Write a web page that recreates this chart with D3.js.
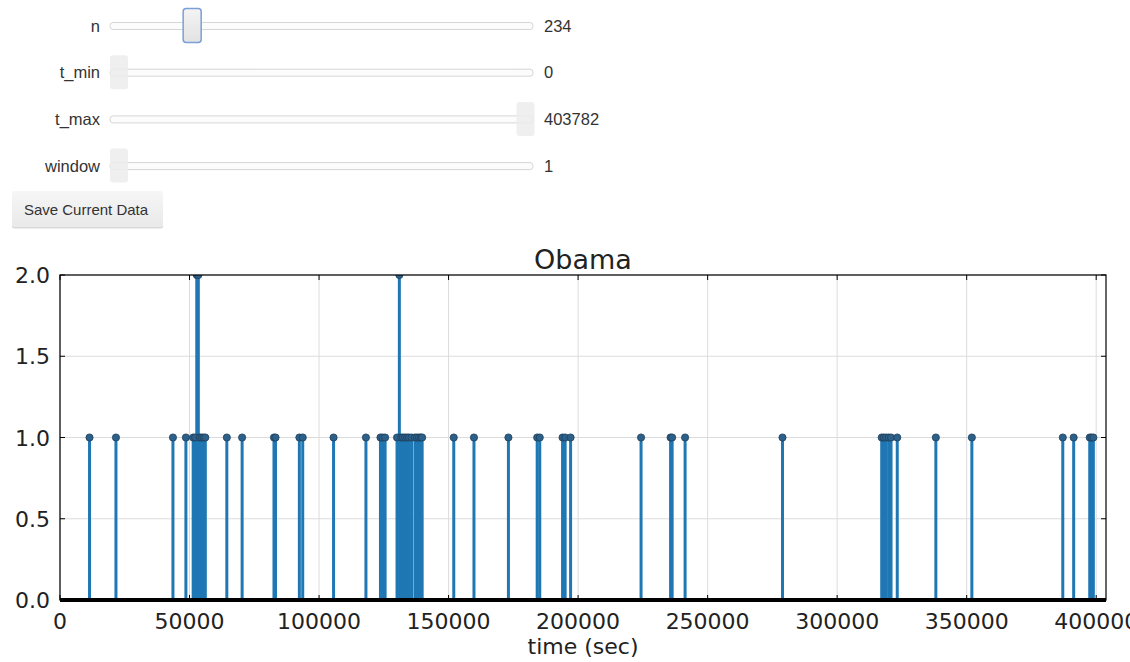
<!DOCTYPE html>
<html><head><meta charset="utf-8">
<script src="https://cdn.jsdelivr.net/npm/d3@7"></script>
<style>body{margin:0;background:#fff;} svg{display:block}</style>
</head><body>
<svg id="c" width="1130" height="662"></svg>
<script>
// ---- widget data ----
const sliderNames = ["n", "t_min", "t_max", "window"];
const sliderValues = [234, 0, 403782, 1];
const sliderMins = [0, 0, 0, 1];
const sliderMaxs = [1300, 403782, 403782, 1000];
const buttonLabel = "Save Current Data";

// ---- chart data ----
const chartTitle = "Obama";
const xLabel = "time (sec)";
const tMax = 403782;
const xTicks = [0, 50000, 100000, 150000, 200000, 250000, 300000, 350000, 400000];
const yTicks = [0, 0.5, 1.0, 1.5, 2.0];
const eventTimes = [
  11400, 21600, 43600, 48600,
  51400, 52200, 52800, 53400, 54000, 54700, 55400, 56100,
  64400, 70300, 82600, 83200, 92400, 93700, 105600, 118100,
  123700, 124500, 125500,
  130100, 131000, 131700, 132400, 133200, 134000, 134700, 135700,
  137000, 137800, 138600, 139300, 139800,
  152000, 159800, 173100, 184200, 185200, 194000, 195000, 197100,
  224300, 235700, 236300, 241300, 278900,
  317200, 318000, 318900, 319900, 320800, 323200,
  338100, 352000, 387100, 391300, 397500, 398200, 398900
];
const eventCounts = [
  1, 1, 1, 1,
  1, 1, 2, 2, 1, 1, 1, 1,
  1, 1, 1, 1, 1, 1, 1, 1,
  1, 1, 1,
  1, 2, 1, 1, 1, 1, 1, 1,
  1, 1, 1, 1, 1,
  1, 1, 1, 1, 1, 1, 1, 1,
  1, 1, 1, 1, 1,
  1, 1, 1, 1, 1, 1,
  1, 1, 1, 1, 1, 1, 1
];

const svg = d3.select("#c");
const defs = svg.append("defs");

// ---------- widgets ----------
const wFont = "'Liberation Sans', Arial, sans-serif";
const rowY = d3.scaleLinear().domain([0, 1]).range([26, 72.7]); // row index -> center y
const hg = defs.append("linearGradient").attr("id", "hg").attr("x1", 0).attr("y1", 0).attr("x2", 0).attr("y2", 1);
hg.append("stop").attr("offset", "0%").attr("stop-color", "#f4f4f4");
hg.append("stop").attr("offset", "100%").attr("stop-color", "#e2e2e2");
const bg = defs.append("linearGradient").attr("id", "bg").attr("x1", 0).attr("y1", 0).attr("x2", 0).attr("y2", 1);
bg.append("stop").attr("offset", "0%").attr("stop-color", "#f6f6f6");
bg.append("stop").attr("offset", "100%").attr("stop-color", "#e9e9e9");

sliderNames.forEach((name, i) => {
  const cy = rowY(i);
  const g = svg.append("g");
  g.append("text").attr("x", 100).attr("y", cy + 5.5).attr("text-anchor", "end")
    .attr("font-family", wFont).attr("font-size", 16.5).attr("fill", "#333").text(name);
  g.append("rect").attr("x", 110).attr("y", cy - 3.5).attr("width", 423).attr("height", 7)
    .attr("rx", 3).attr("fill", "#fcfcfc").attr("stroke", "#d6d6d6").attr("stroke-width", 1);
  const s = d3.scaleLinear().domain([sliderMins[i], sliderMaxs[i]]).range([119, 525.5]);
  const hx = s(sliderValues[i]);
  const active = i === 0;
  g.append("rect").attr("x", hx - 9).attr("y", cy - 17.5).attr("width", 18).attr("height", 34)
    .attr("rx", 3).attr("fill", active ? "url(#hg)" : "#ececec")
    .attr("opacity", active ? 1 : 0.85)
    .attr("stroke", active ? "#7c9ed6" : "none").attr("stroke-width", 1.5);
  g.append("text").attr("x", 544).attr("y", cy + 5.5)
    .attr("font-family", wFont).attr("font-size", 16.5).attr("fill", "#333").text(sliderValues[i]);
});

// button
svg.append("rect").attr("x", 12).attr("y", 192.5).attr("width", 151).attr("height", 36).attr("rx", 2).attr("fill", "#d9d9d9");
svg.append("rect").attr("x", 12).attr("y", 191).attr("width", 151).attr("height", 36).attr("rx", 2).attr("fill", "url(#bg)");
svg.append("text").attr("x", 86).attr("y", 214.5).attr("text-anchor", "middle")
  .attr("font-family", wFont).attr("font-size", 15).attr("fill", "#333").text(buttonLabel);

// ---------- chart ----------
const cFont = "'DejaVu Sans', sans-serif";
const x = d3.scaleLinear().domain([0, tMax]).range([60, 1106]);
const y = d3.scaleLinear().domain([0, 2]).range([600, 275]);
const [x0, x1] = x.range();
const [y0, y1] = y.range();

defs.append("clipPath").attr("id", "plot").append("rect")
  .attr("x", x0).attr("y", y1).attr("width", x1 - x0).attr("height", y0 - y1);

// grid
const grid = svg.append("g").attr("stroke", "#dcdcdc").attr("stroke-width", 1);
grid.selectAll(".gx").data(xTicks).join("line")
  .attr("x1", d => x(d)).attr("x2", d => x(d)).attr("y1", y1).attr("y2", y0);
grid.selectAll(".gy").data(yTicks).join("line")
  .attr("y1", d => y(d)).attr("y2", d => y(d)).attr("x1", x0).attr("x2", x1);

const events = eventTimes.map((t, i) => ({ t, c: eventCounts[i] }));
const plot = svg.append("g").attr("clip-path", "url(#plot)");
plot.selectAll(".stem").data(events).join("line")
  .attr("x1", d => x(d.t)).attr("x2", d => x(d.t))
  .attr("y1", y(0)).attr("y2", d => y(d.c))
  .attr("stroke", "#1f77b4").attr("stroke-width", 3);
plot.selectAll(".mk").data(events).join("circle")
  .attr("cx", d => x(d.t)).attr("cy", d => y(d.c)).attr("r", 3.6)
  .attr("fill", "#2d6089").attr("stroke", "#1d3f5c").attr("stroke-width", 0.8);

// baseline
svg.append("line").attr("x1", x(0)).attr("x2", x(tMax)).attr("y1", y(0)).attr("y2", y(0))
  .attr("stroke", "#000").attr("stroke-width", 4);

// frame
svg.append("rect").attr("x", x0).attr("y", y1).attr("width", x1 - x0).attr("height", y0 - y1)
  .attr("fill", "none").attr("stroke", "#000").attr("stroke-width", 1.2);

// inward ticks
const tk = svg.append("g").attr("stroke", "#000").attr("stroke-width", 1);
xTicks.forEach(d => {
  tk.append("line").attr("x1", x(d)).attr("x2", x(d)).attr("y1", y1).attr("y2", y1 + 5);
  tk.append("line").attr("x1", x(d)).attr("x2", x(d)).attr("y1", y0).attr("y2", y0 - 5);
});
yTicks.forEach(d => {
  tk.append("line").attr("x1", x0).attr("x2", x0 + 5).attr("y1", y(d)).attr("y2", y(d));
  tk.append("line").attr("x1", x1).attr("x2", x1 - 5).attr("y1", y(d)).attr("y2", y(d));
});

// tick labels
svg.append("g").selectAll("text").data(xTicks).join("text")
  .attr("x", d => x(d)).attr("y", 629).attr("text-anchor", "middle")
  .attr("font-family", cFont).attr("font-size", 22).attr("fill", "#222")
  .text(d => d3.format("d")(d));
svg.append("g").selectAll("text").data(yTicks).join("text")
  .attr("x", 50).attr("y", d => y(d) + 8).attr("text-anchor", "end")
  .attr("font-family", cFont).attr("font-size", 22).attr("fill", "#222")
  .text(d => d3.format(".1f")(d));

// title & x label
svg.append("text").attr("x", (x0 + x1) / 2).attr("y", 269).attr("text-anchor", "middle")
  .attr("font-family", cFont).attr("font-size", 27).attr("fill", "#222").text(chartTitle);
svg.append("text").attr("x", (x0 + x1) / 2).attr("y", 654).attr("text-anchor", "middle")
  .attr("font-family", cFont).attr("font-size", 22).attr("fill", "#222").text(xLabel);
</script>
</body></html>
